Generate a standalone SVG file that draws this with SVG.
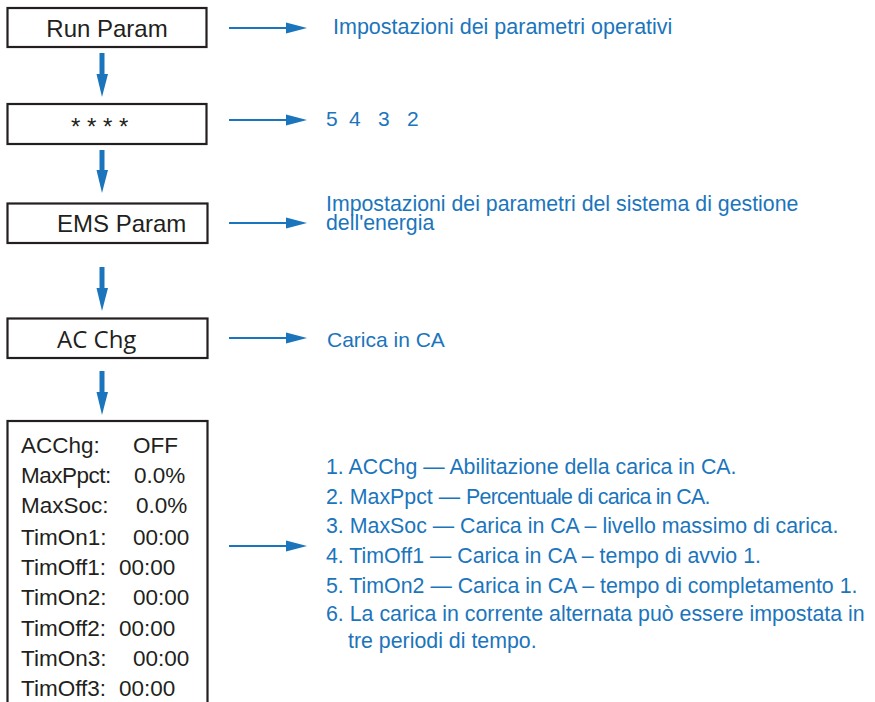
<svg xmlns="http://www.w3.org/2000/svg" width="875" height="702" viewBox="0 0 875 702">
<defs>
<style>
.box{fill:#fff;stroke:#231f20;stroke-width:2.2}
.bt{font-family:"Liberation Sans",Arial,sans-serif;font-size:24px;fill:#231f20}
.lt{font-family:"Liberation Sans",Arial,sans-serif;font-size:22.5px;fill:#231f20}
.bl{font-family:"Liberation Sans",Arial,sans-serif;font-size:21px;fill:#1b75bc}
.ls{font-size:21.35px}
.hl{stroke:#1b75bc;stroke-width:1.8;fill:none}
.vl{stroke:#1b75bc;stroke-width:5;fill:none}
.ah{fill:#1b75bc}
</style>
</defs>
<rect width="875" height="702" fill="#fff"/>
<g id="node-run-param"><rect class="box" x="7.5" y="8" width="199" height="39"/><text class="bt" x="107" y="37" text-anchor="middle">Run Param</text></g>
<g id="node-password"><rect class="box" x="7.5" y="104" width="199" height="40"/><text class="bt" x="71" y="135">* * * *</text></g>
<g id="node-ems-param"><rect class="box" x="7.5" y="203.5" width="200" height="39.5"/><text class="bt" x="57" y="232">EMS Param</text></g>
<g id="node-ac-chg"><rect class="box" x="7.5" y="318.5" width="200" height="39.5"/><text class="bt" x="57" y="348" style="font-family:'Open Sans',sans-serif">AC Chg</text></g>
<g id="node-ac-chg-params"><rect class="box" x="7.5" y="421" width="200" height="300"/>
<text class="lt" x="21" y="453">ACChg:</text><text class="lt" x="133" y="453">OFF</text>
<text class="lt" x="21" y="483" letter-spacing="-0.5">MaxPpct:</text><text class="lt" x="134" y="483">0.0%</text>
<text class="lt" x="21" y="513">MaxSoc:</text><text class="lt" x="136" y="513">0.0%</text>
<text class="lt" x="21" y="545">TimOn1:</text><text class="lt" x="133" y="545">00:00</text>
<text class="lt" x="21" y="575">TimOff1:</text><text class="lt" x="119" y="575">00:00</text>
<text class="lt" x="21" y="605">TimOn2:</text><text class="lt" x="133" y="605">00:00</text>
<text class="lt" x="21" y="636">TimOff2:</text><text class="lt" x="119" y="636">00:00</text>
<text class="lt" x="21" y="666">TimOn3:</text><text class="lt" x="133" y="666">00:00</text>
<text class="lt" x="21" y="696">TimOff3:</text><text class="lt" x="119" y="696">00:00</text>
</g>
<g id="desc-run-param"><text class="bl" x="333" y="34" style="font-size:21.5px">Impostazioni dei parametri operativi</text></g>
<g id="desc-password"><text class="bl" x="326" y="126"><tspan x="326">5</tspan><tspan x="349">4</tspan><tspan x="378">3</tspan><tspan x="407">2</tspan></text></g>
<g id="desc-ems-param"><text class="bl" x="326" y="211" style="font-size:21.3px">Impostazioni dei parametri del sistema di gestione</text><text class="bl" x="326" y="230" style="font-size:21.3px">dell'energia</text></g>
<g id="desc-ac-chg"><text class="bl" x="327" y="347">Carica in CA</text></g>
<g id="desc-params">
<text class="bl ls" x="326" y="474">1. ACChg — Abilitazione della carica in CA.</text>
<text class="bl ls" x="326" y="504">2. MaxPpct — <tspan letter-spacing="-0.7">Percentuale di carica in CA.</tspan></text>
<text class="bl ls" x="326" y="533">3. MaxSoc — Carica in CA – livello massimo di carica.</text>
<text class="bl ls" x="326" y="563">4. TimOff1 — Carica in CA – tempo di avvio 1.</text>
<text class="bl ls" x="326" y="593">5. TimOn2 — Carica in CA – tempo di completamento 1.</text>
<text class="bl ls" x="326" y="621">6. La carica in corrente alternata può essere impostata in</text>
<text class="bl ls" x="348" y="648">tre periodi di tempo.</text>
</g>
<g id="connectors">
<line class="vl" x1="102" y1="53" x2="102" y2="76"/><polygon class="ah" points="96.5,74 108,74 102,97"/>
<line class="vl" x1="102" y1="150" x2="102" y2="172"/><polygon class="ah" points="96.5,170 108,170 102,193"/>
<line class="vl" x1="102" y1="267" x2="102" y2="290"/><polygon class="ah" points="96.5,288 108,288 102,311"/>
<line class="vl" x1="102" y1="371" x2="102" y2="394"/><polygon class="ah" points="96.5,392 108,392 102,415"/>
<line class="hl" x1="229" y1="28" x2="290" y2="28"/><polygon class="ah" points="286,22.5 307,28 286,33.5"/>
<line class="hl" x1="229" y1="120" x2="290" y2="120"/><polygon class="ah" points="286,114.5 307,120 286,125.5"/>
<line class="hl" x1="229" y1="223" x2="290" y2="223"/><polygon class="ah" points="286,217.5 307,223 286,228.5"/>
<line class="hl" x1="229" y1="338" x2="290" y2="338"/><polygon class="ah" points="286,332.5 307,338 286,343.5"/>
<line class="hl" x1="229" y1="546" x2="290" y2="546"/><polygon class="ah" points="286,540.5 307,546 286,551.5"/>
</g>
</svg>
